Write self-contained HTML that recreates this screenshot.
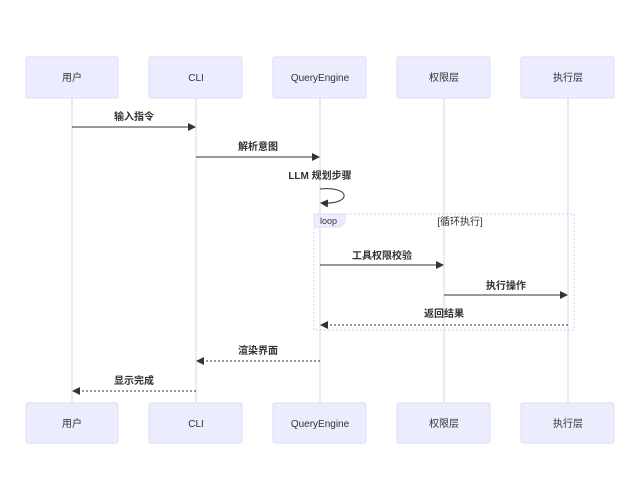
<!DOCTYPE html>
<html><head><meta charset="utf-8"><style>
html,body{margin:0;padding:0;background:#fff;}
svg{display:block;font-family:"Liberation Sans","Noto Sans CJK SC",sans-serif;}
.b{fill:#ececff;stroke:#dcdcf5;stroke-width:1;}
.t{font-size:10px;fill:#333;text-anchor:middle;}
.m{font-size:10px;fill:#333;text-anchor:middle;font-weight:bold;}
.ll{stroke:#d4d4ee;stroke-width:1;}
.a{stroke:#333;stroke-width:1;fill:none;}
.d{stroke:#333;stroke-width:1;fill:none;stroke-dasharray:2,2;}
</style></head><body>
<svg width="632" height="479" viewBox="0 0 632 479">
<defs><marker id="ar" markerWidth="8" markerHeight="8" refX="7" refY="4" orient="auto" markerUnits="userSpaceOnUse"><path d="M0,0 L8,4 L0,8 z" fill="#333"/></marker></defs>
<g class="ll">
<line x1="72" y1="98" x2="72" y2="403"/><line x1="196" y1="98" x2="196" y2="403"/><line x1="320" y1="98" x2="320" y2="403"/><line x1="444" y1="98" x2="444" y2="403"/><line x1="568" y1="98" x2="568" y2="403"/>
</g>
<g>
<rect class="b" x="26" y="57" width="92" height="41" rx="2"/><rect class="b" x="149" y="57" width="93" height="41" rx="2"/><rect class="b" x="273" y="57" width="93" height="41" rx="2"/><rect class="b" x="397" y="57" width="93" height="41" rx="2"/><rect class="b" x="521" y="57" width="93" height="41" rx="2"/>
<rect class="b" x="26" y="403" width="92" height="40" rx="2"/><rect class="b" x="149" y="403" width="93" height="40" rx="2"/><rect class="b" x="273" y="403" width="93" height="40" rx="2"/><rect class="b" x="397" y="403" width="93" height="40" rx="2"/><rect class="b" x="521" y="403" width="93" height="40" rx="2"/>
</g>
<g class="t">
<text x="72" y="81">用户</text><text x="196" y="81">CLI</text><text x="320" y="81">QueryEngine</text><text x="444" y="81">权限层</text><text x="568" y="81">执行层</text>
<text x="72" y="427">用户</text><text x="196" y="427">CLI</text><text x="320" y="427">QueryEngine</text><text x="444" y="427">权限层</text><text x="568" y="427">执行层</text>
</g>
<rect x="314" y="214" width="260" height="116" fill="none" stroke="#d0d0e8" stroke-dasharray="2,2"/>
<path d="M314,214 H345 V222 L340,227 H314 z" fill="#ececff" stroke="#dcdcf5"/>
<text x="320" y="224" style="font-size:9px;fill:#333">loop</text>
<text class="t" x="460" y="225">[循环执行]</text>
<g class="m">
<text x="134" y="120">输入指令</text>
<text x="258" y="150">解析意图</text>
<text x="320" y="179">LLM 规划步骤</text>
<text x="382" y="259">工具权限校验</text>
<text x="506" y="289">执行操作</text>
<text x="444" y="317">返回结果</text>
<text x="258" y="354">渲染界面</text>
<text x="134" y="384">显示完成</text>
</g>
<line class="a" x1="72" y1="127" x2="195" y2="127" marker-end="url(#ar)"/>
<line class="a" x1="196" y1="157" x2="319" y2="157" marker-end="url(#ar)"/>
<path class="a" d="M320,189 C352,186 352,205 321,203" marker-end="url(#ar)"/>
<line class="a" x1="320" y1="265" x2="443" y2="265" marker-end="url(#ar)"/>
<line class="a" x1="444" y1="295" x2="567" y2="295" marker-end="url(#ar)"/>
<line class="d" x1="568" y1="325" x2="321" y2="325" marker-end="url(#ar)"/>
<line class="d" x1="320" y1="361" x2="197" y2="361" marker-end="url(#ar)"/>
<line class="d" x1="196" y1="391" x2="73" y2="391" marker-end="url(#ar)"/>
</svg>
</body></html>
